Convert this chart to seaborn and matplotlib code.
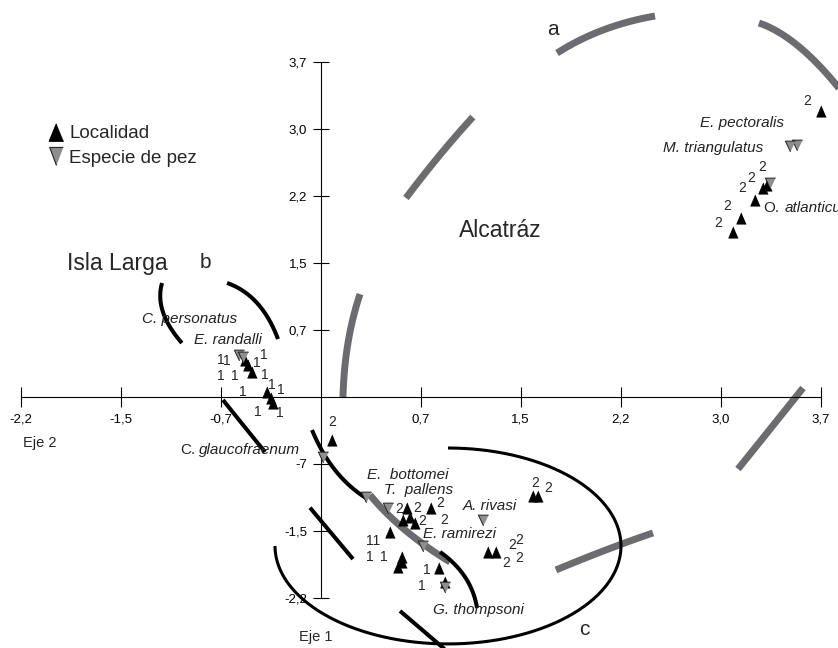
import numpy as np
import pandas as pd
import matplotlib
matplotlib.use("Agg")
import matplotlib.pyplot as plt
import seaborn as sns
from matplotlib.lines import Line2D

# ---------------- data ----------------
# Localidades (black up-triangles)
loc_x = [3.702, 3.303, 3.273, 3.214, 3.110, 3.051,
         -0.560, -0.538, -0.508, -0.397, -0.368, -0.353,
         0.084, 0.639, 0.609, 0.661, 0.698, 0.816, 0.513, 0.602, 0.602, 0.572,
         0.875, 0.920, 1.238, 1.297, 1.571, 1.608]
loc_y = [3.156, 2.338, 2.305, 2.173, 1.974, 1.819,
         0.405, 0.350, 0.273, 0.052, -0.014, -0.070,
         -0.478, -1.229, -1.362, -1.329, -1.395, -1.229, -1.494, -1.771, -1.826, -1.881,
         -1.892, -2.047, -1.715, -1.715, -1.097, -1.097]

# Especies de pez (grey down-triangles)
fish_names = ["E. pectoralis", "M. triangulatus", "O. atlanticus", "C. personatus",
              "E. randalli", "C. glaucofraenum", "E. bottomei", "T. pallens",
              "A. rivasi", "E. ramirezi", "G. thompsoni"]
fish_x = [3.525, 3.473, 3.325, -0.604, -0.575, 0.016, 0.335, 0.498, 1.201, 0.757, 0.920]
fish_y = [2.780, 2.769, 2.360, 0.461, 0.438, -0.666, -1.108, -1.229, -1.362, -1.649, -2.102]

# locality group numbers (annotation text)
num_text = (["2"] * 6 + ["1"] * 12 + ["2"] * 12 + ["11", "1", "1", "1", "1"])
num_x = [3.597, 3.265, 3.183, 3.117, 3.006, 2.940,
         -0.738, -0.693, -0.471, -0.420, -0.738, -0.634, -0.412, -0.575, -0.360, -0.296,
         -0.464, -0.301,
         0.084, 0.579, 0.713, 0.750, 0.883, 0.912, 1.586, 1.682, 1.415, 1.467, 1.371, 1.467,
         0.387, 0.365, 0.468, 0.787, 0.750]
num_y = [3.265, 2.537, 2.416, 2.305, 2.106, 1.918,
         0.405, 0.394, 0.372, 0.461, 0.229, 0.229, 0.240, 0.052, 0.130, 0.074,
         -0.169, -0.180,
         -0.282, -1.240, -1.229, -1.373, -1.174, -1.362, -0.953, -1.008, -1.638, -1.583,
         -1.837, -1.782,
         -1.594, -1.771, -1.771, -1.914, -2.091]

tick_vals = [-2.22, -1.48, -0.74, 0.74, 1.48, 2.22, 2.96, 3.70]
xtick_labels = ["-2,2", "-1,5", "-0,7", "0,7", "1,5", "2,2", "3,0", "3,7"]
ytick_labels = ["-2,2", "-1,5", "-7", "0,7", "1,5", "2,2", "3,0", "3,7"]

loc_df = pd.DataFrame({"x": loc_x, "y": loc_y})
fish_df = pd.DataFrame({"x": fish_x, "y": fish_y, "name": fish_names})

# ---------------- style ----------------
sns.set_style("white")
plt.rcParams["font.family"] = ["Liberation Sans", "DejaVu Sans"]

fig = plt.figure(figsize=(8.38, 6.48), dpi=100)
ax = fig.add_axes([0, 0, 1, 1])
ax.set_xlim(-2.373, 3.828)
ax.set_ylim(-2.776, 4.382)

# axes crossing at the origin
for s in ["top", "right"]:
    ax.spines[s].set_visible(False)
ax.spines["left"].set_position(("data", 0))
ax.spines["bottom"].set_position(("data", 0))
ax.spines["left"].set_bounds(-2.22, 3.70)
ax.spines["bottom"].set_bounds(-2.22, 3.70)
for s in ["left", "bottom"]:
    ax.spines[s].set_color("black")
    ax.spines[s].set_linewidth(0.8)
ax.set_xticks(tick_vals)
ax.set_xticklabels(xtick_labels)
ax.set_yticks(tick_vals)
ax.set_yticklabels(ytick_labels)
ax.tick_params(axis="x", direction="inout", length=14.4, width=0.8, pad=5,
               labelsize=9.5, colors="black", bottom=True)
ax.tick_params(axis="y", direction="inout", length=11.5, width=0.8, pad=4,
               labelsize=9.5, colors="black", left=True)
ax.grid(False)
ax.set_facecolor("white")

# ---------------- group outlines ----------------
GREY = "#6c6c70"


def bez(p0, pm, p2, n=80):
    p0, pm, p2 = map(np.asarray, (p0, pm, p2))
    c = 2 * pm - 0.5 * (p0 + p2)
    t = np.linspace(0, 1, n)[:, None]
    pts = (1 - t) ** 2 * p0 + 2 * (1 - t) * t * c + t ** 2 * p2
    return pts[:, 0], pts[:, 1]


grey_arcs = [
    ((1.749, 3.796), (2.089, 4.050), (2.474, 4.205)),
    ((3.243, 4.128), (3.569, 3.829), (3.917, 3.250)),
    ((1.126, 3.089), (0.882, 2.670), (0.631, 2.195)),
    ((0.291, 1.133), (0.202, 0.593), (0.165, -0.003)),
    ((3.569, 0.096), (3.332, -0.346), (3.088, -0.799)),
    ((2.459, -1.505), (2.111, -1.693), (1.741, -1.914)),
    ((0.365, -1.086), (0.624, -1.472), (0.957, -1.826)),
]
black_arcs = [
    ((-1.174, 1.256), (-1.167, 0.935), (-1.027, 0.593)),
    ((-0.693, 1.256), (-0.471, 1.035), (-0.316, 0.637)),
    ((-0.723, -0.036), (-0.568, -0.324), (-0.412, -0.611)),
    ((-0.064, -0.368), (0.106, -0.810), (0.335, -1.119)),
    ((0.883, -1.715), (1.068, -1.992), (1.157, -2.334)),
    ((-0.079, -1.226), (0.080, -1.510), (0.239, -1.793)),
    ((0.587, -2.367), (0.765, -2.594), (0.942, -2.820)),
]
for a in grey_arcs:
    xs, ys = bez(*a)
    ax.plot(xs, ys, color=GREY, lw=5, solid_capstyle="butt", zorder=2)
for a in black_arcs:
    xs, ys = bez(*a)
    ax.plot(xs, ys, color="black", lw=2.9, solid_capstyle="butt", zorder=2)

# ellipse "c"
th = np.radians(np.linspace(90, -180, 300))
ax.plot(0.942 + 1.280 * np.cos(th), -1.649 + 1.082 * np.sin(th),
        color="black", lw=2.2, solid_capstyle="butt", zorder=2)

# ---------------- markers ----------------
up_tri = [(0, 1), (-0.85, -1), (0.85, -1)]
down_tri = [(0, -1), (-0.95, 1), (0.95, 1)]
sns.scatterplot(data=loc_df, x="x", y="y", ax=ax, marker=up_tri, s=66,
                color="black", edgecolor="black", linewidth=0.5, legend=False, zorder=4)
sns.scatterplot(data=fish_df, x="x", y="y", ax=ax, marker=down_tri, s=60,
                color="#8e8e8e", edgecolor="#222222", linewidth=0.7, legend=False, zorder=5)
ax.set_xlabel("")
ax.set_ylabel("")

# ---------------- texts ----------------
for t, x, y in zip(num_text, num_x, num_y):
    ax.text(x, y, t, fontsize=10, ha="center", va="center", zorder=6)

sp_kw = dict(fontsize=11, style="italic", ha="left", va="center", color="#222222", zorder=6)
ax.text(2.807, 3.023, "E. pectoralis", **sp_kw)
ax.text(2.533, 2.747, "M. triangulatus", **sp_kw)
ax.text(3.273, 2.082, "O.", fontsize=11, ha="left", va="center", zorder=6)
ax.text(3.435, 2.082, "atlanticus", **sp_kw)
ax.text(-1.321, 0.858, "C. personatus", **sp_kw)
ax.text(-0.937, 0.626, "E. randalli", **sp_kw)
ax.text(-1.041, -0.589, "C.", fontsize=11, ha="left", va="center", zorder=6)
ax.text(-0.901, -0.589, "glaucofraenum", **sp_kw)
ax.text(0.343, -0.865, "E.  bottomei", **sp_kw)
ax.text(0.468, -1.031, "T.  pallens", **sp_kw)
ax.text(1.053, -1.208, "A. rivasi", **sp_kw)
ax.text(0.757, -1.517, "E. ramirezi", **sp_kw)
ax.text(0.831, -2.356, "G. thompsoni", **sp_kw)

ax.text(-1.506, 1.475, "Isla Larga", fontsize=16.5, ha="center", va="center")
ax.text(1.327, 1.841, "Alcatráz", fontsize=16.5, ha="center", va="center")
ax.text(1.719, 4.061, "a", fontsize=15, ha="center", va="center")
ax.text(-0.856, 1.487, "b", fontsize=15, ha="center", va="center")
ax.text(1.948, -2.577, "c", fontsize=15, ha="center", va="center")
ax.text(-2.077, -0.511, "Eje 2", fontsize=10.5, ha="center", va="center")
ax.text(-0.035, -2.654, "Eje 1", fontsize=10.5, ha="center", va="center")

# ---------------- legend ----------------
handles = [
    Line2D([], [], linestyle="none", marker=[(0, 1), (-0.82, -1), (0.82, -1)],
           markersize=12.5, color="black", label="Localidad"),
    Line2D([], [], linestyle="none", marker=[(0, -1), (-0.75, 1), (0.75, 1)],
           markersize=13, markerfacecolor="#8e8e8e", markeredgecolor="#222222",
           markeredgewidth=0.8, label="Especie de pez"),
]
ax.legend(handles=handles, loc="upper left", bbox_to_anchor=(46.6 / 838, 1 - 125 / 648),
          bbox_transform=fig.transFigure, frameon=False, fontsize=13.5,
          handlelength=1.0, handletextpad=0.2, labelspacing=0.4,
          borderpad=0, borderaxespad=0)

fig.savefig("out.png", dpi=100)
